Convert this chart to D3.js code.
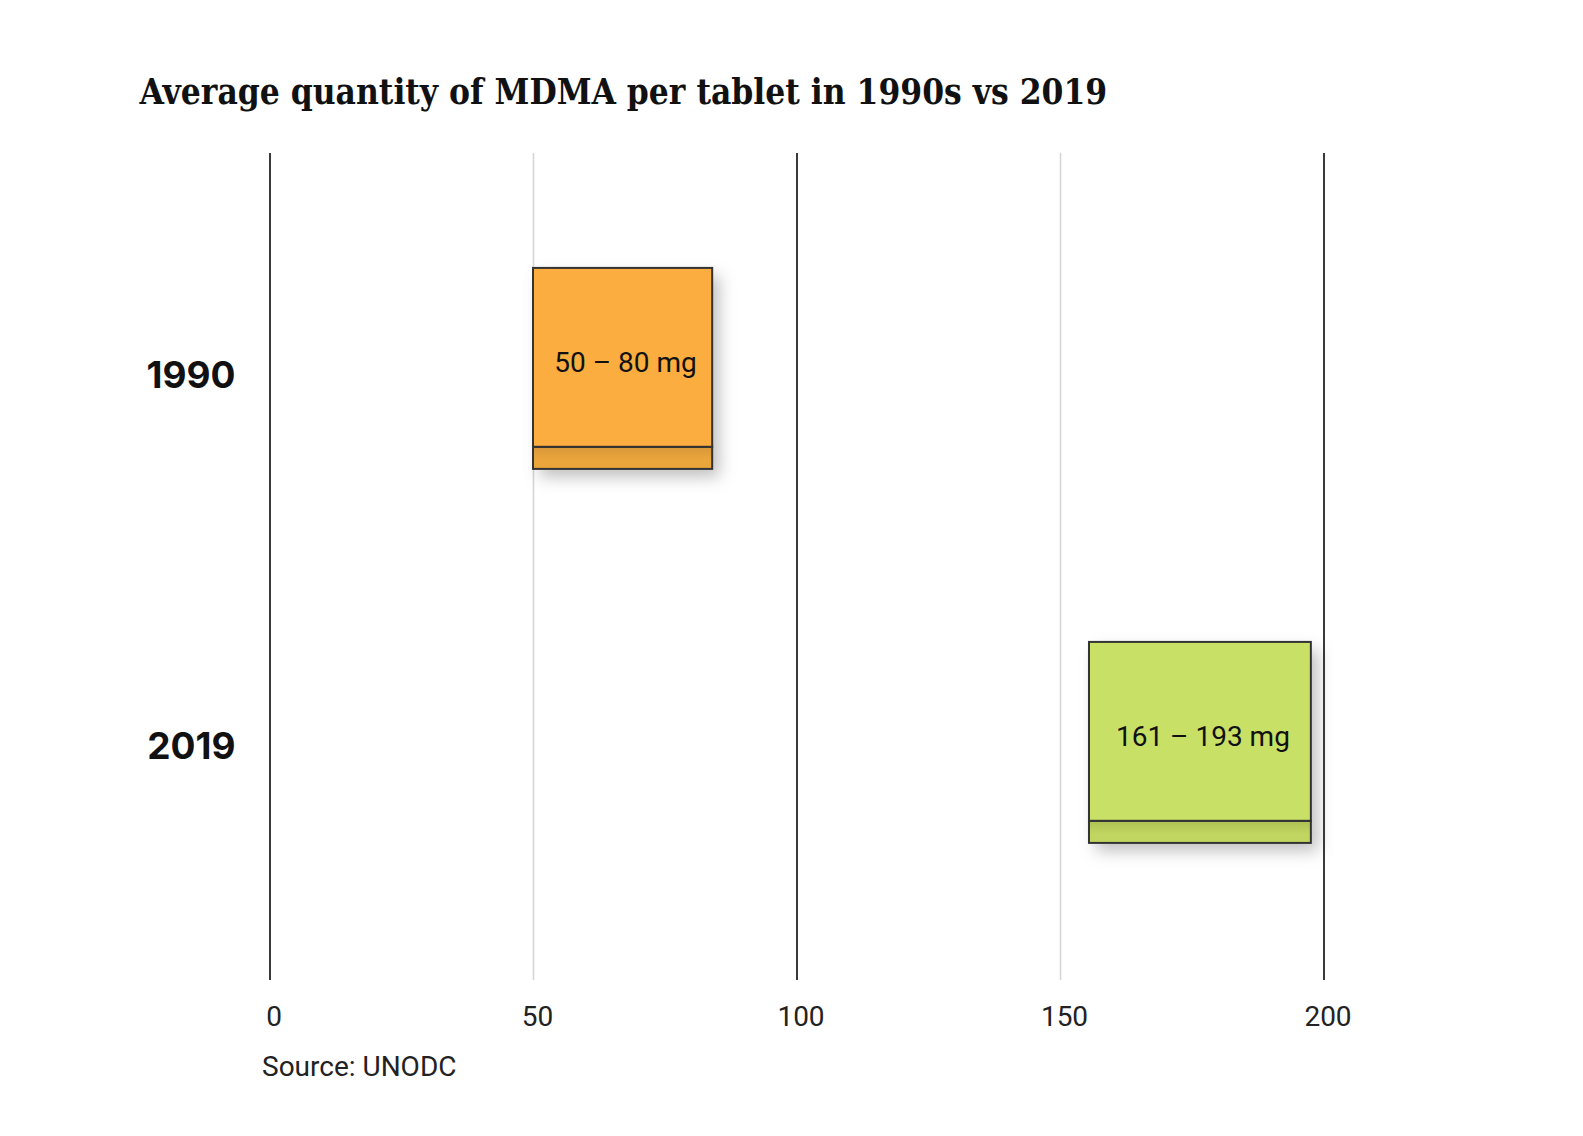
<!DOCTYPE html>
<html>
<head>
<meta charset="utf-8">
<script src="https://cdn.jsdelivr.net/npm/d3@7"></script>
<style>
  body { margin: 0; background: #fff; }
  .title { font-family: "DejaVu Serif Condensed", "Liberation Serif", serif; font-weight: bold; fill: #111; }
  .yearLabel { font-family: Inter, "Noto Sans", sans-serif; font-weight: 700; font-size: 37px; fill: #111; }
  .tick text { font-family: Roboto, sans-serif; font-size: 28px; fill: #222; }
  .boxText { font-family: Roboto, sans-serif; font-size: 28px; fill: #111; }
  .source { font-family: Roboto, sans-serif; font-size: 28px; fill: #222; }
</style>
</head>
<body>
<div id="chart"></div>
<script>
// chart data
var years = ["1990", "2019"];
var lowMg = [50, 161];
var highMg = [80, 193];
// extent of each drawn box (mg)
var boxStart = [50, 155.5];
var boxEnd = [84, 197.6];
var tickValues = [0, 50, 100, 150, 200];
var majorTicks = [0, 100, 200];

var svgWidth = 1583;
var svgHeight = 1136;

var margin = {
  top: 153,
  bottom: 156,
  left: 269.5,
  right: 259.5
};

var width = svgWidth - margin.left - margin.right;
var height = svgHeight - margin.top - margin.bottom;

var svg = d3.select("#chart")
  .append("svg")
  .attr("width", svgWidth)
  .attr("height", svgHeight)
  .style("display", "block");

// shadow + strip gradients
var defs = svg.append("defs");
defs.append("filter")
  .attr("id", "shadow")
  .attr("x", "-20%").attr("y", "-20%")
  .attr("width", "150%").attr("height", "150%")
  .append("feDropShadow")
  .attr("dx", 7)
  .attr("dy", 8)
  .attr("stdDeviation", 8)
  .attr("flood-color", "#000")
  .attr("flood-opacity", 0.25);

var faceColor = d3.scaleOrdinal(years, ["#fbad3f", "#c9e066"]);
var stripColor = d3.scaleOrdinal(years, ["#eaa53b", "#c1d660"]);
var stripDark = d3.scaleOrdinal(years, ["#d9973a", "#adc055"]);

years.forEach(function(y) {
  var g = defs.append("linearGradient")
    .attr("id", "strip" + y)
    .attr("x1", 0).attr("y1", 0).attr("x2", 0).attr("y2", 1);
  g.append("stop").attr("offset", "0%").attr("stop-color", stripDark(y));
  g.append("stop").attr("offset", "60%").attr("stop-color", stripColor(y));
  g.append("stop").attr("offset", "100%").attr("stop-color", stripColor(y));
});

svg.append("rect")
  .attr("width", svgWidth)
  .attr("height", svgHeight)
  .attr("fill", "#fff");

// title
var title = svg.append("text")
  .attr("class", "title")
  .attr("x", 139.5)
  .attr("y", 104)
  .attr("font-size", 36)
  .text("Average quantity of MDMA per tablet in 1990s vs 2019");
// fit the serif stand-in to the original title width
var tw = title.node().getComputedTextLength();
title.attr("font-size", Math.min(40, 36 * 968 / tw));

var chartGroup = svg.append("g")
  .attr("transform", `translate(${margin.left}, ${margin.top})`);

// scales
var xScale = d3.scaleLinear()
  .domain([0, 200])
  .range([0, width]);

var yScale = d3.scaleBand()
  .domain(years)
  .range([0, height])
  .paddingInner(0.4626)
  .paddingOuter(0.3369)
  .align(0.456);

// grid axis
var xAxis = d3.axisBottom(xScale)
  .tickValues(tickValues)
  .tickSize(-height)
  .tickPadding(26)
  .tickFormat(d3.format("d"));

var axisG = chartGroup.append("g")
  .attr("transform", `translate(0, ${height})`)
  .call(xAxis);

axisG.select(".domain").remove();
axisG.selectAll(".tick line")
  .attr("stroke", d => majorTicks.includes(d) ? "#3a3a3a" : "#d4d4d4")
  .attr("stroke-width", d => majorTicks.includes(d) ? 2 : 1.5);
axisG.selectAll(".tick text")
  .attr("fill", "#222")
  .attr("dx", 4);

// year labels
chartGroup.selectAll(".yearLabel")
  .data(years)
  .enter()
  .append("text")
  .attr("class", "yearLabel")
  .attr("text-anchor", "end")
  .attr("x", -34)
  .attr("y", (d, i) => yScale(d) + yScale.bandwidth() / 2 + 20 - i * 3)
  .text(d => d);

// boxes
var bw = yScale.bandwidth();
var faceH = bw * 0.89;

var boxes = chartGroup.selectAll(".box")
  .data(years)
  .enter()
  .append("g")
  .attr("class", "box");

boxes.append("rect")
  .attr("x", (d, i) => xScale(boxStart[i]))
  .attr("y", d => yScale(d))
  .attr("width", (d, i) => xScale(boxEnd[i]) - xScale(boxStart[i]))
  .attr("height", bw)
  .attr("fill", d => faceColor(d))
  .attr("filter", "url(#shadow)");

boxes.append("rect")
  .attr("x", (d, i) => xScale(boxStart[i]))
  .attr("y", d => yScale(d) + faceH)
  .attr("width", (d, i) => xScale(boxEnd[i]) - xScale(boxStart[i]))
  .attr("height", bw - faceH)
  .attr("fill", d => "url(#strip" + d + ")")
  .attr("stroke", "#333")
  .attr("stroke-width", 2);

boxes.append("rect")
  .attr("x", (d, i) => xScale(boxStart[i]))
  .attr("y", d => yScale(d))
  .attr("width", (d, i) => xScale(boxEnd[i]) - xScale(boxStart[i]))
  .attr("height", faceH)
  .attr("fill", d => faceColor(d))
  .attr("stroke", "#333")
  .attr("stroke-width", 2);

boxes.append("text")
  .attr("class", "boxText")
  .attr("text-anchor", "middle")
  .attr("x", (d, i) => (xScale(boxStart[i]) + xScale(boxEnd[i])) / 2 + 3)
  .attr("y", d => yScale(d) + faceH / 2 + 15)
  .text((d, i) => `${lowMg[i]} \u2013 ${highMg[i]} mg`);

// source
svg.append("text")
  .attr("class", "source")
  .attr("x", 262)
  .attr("y", 1076)
  .text("Source: UNODC");
</script>
</body>
</html>
